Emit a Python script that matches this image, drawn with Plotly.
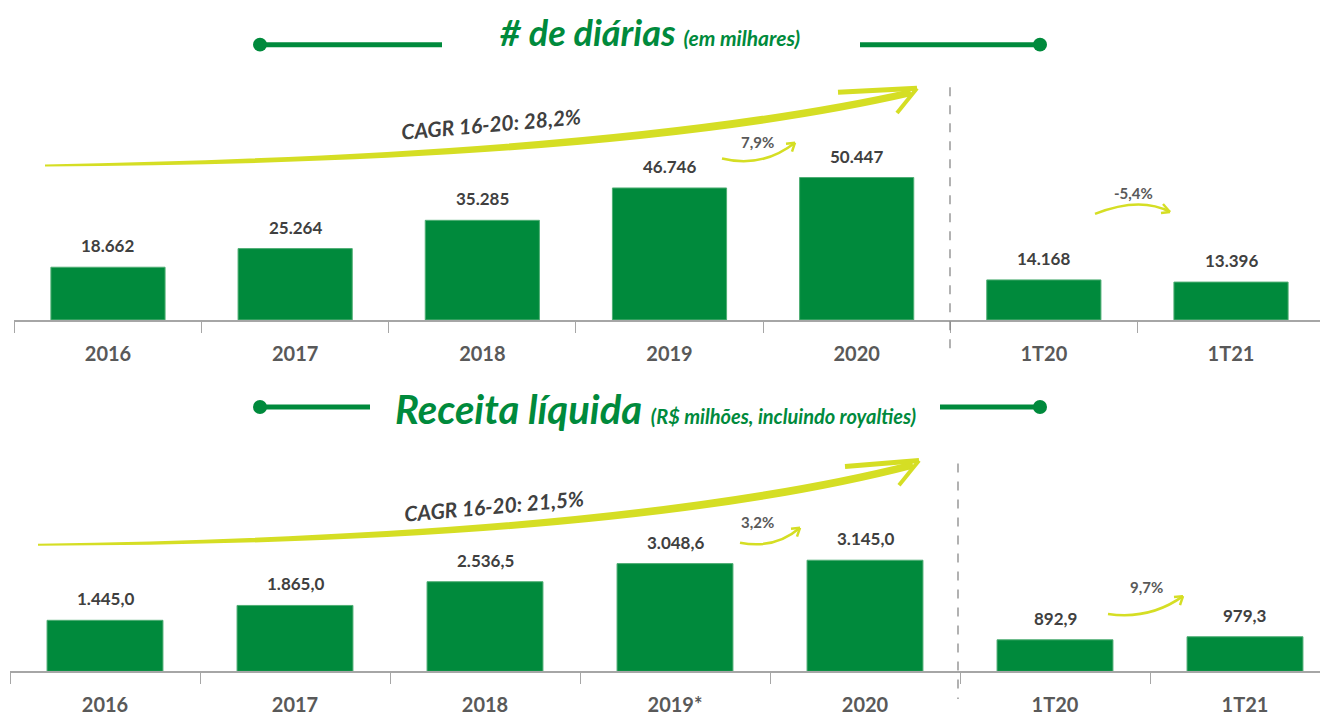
import plotly.graph_objects as go

# page has an 8px body margin: figure drawn at offset (8, 8)
OFF = 8
W, H = 1328 - OFF, 716 - OFF

cats_top = ["2016", "2017", "2018", "2019", "2020", "1T20", "1T21"]
cats_bot = ["2016", "2017", "2018", "2019*", "2020", "1T20", "1T21"]
diarias = [18662, 25264, 35285, 46746, 50447, 14168, 13396]       # milhares
receita = [1445.0, 1865.0, 2536.5, 3048.6, 3145.0, 892.9, 979.3]  # R$ milhões

title_top = "# de diárias"
sub_top = "(em milhares)"
title_bot = "Receita líquida"
sub_bot = "(R$ milhões, incluindo royalties)"
cagr_top = "CAGR 16-20: 28,2%"
cagr_bot = "CAGR 16-20: 21,5%"
growth_top = ["7,9%", "-5,4%"]
growth_bot = ["3,2%", "9,7%"]

GREEN = "#008A3C"
YEL = "#D5DE24"
DARK = "#404040"
GRAY = "#595959"
FONT = "Lato"


def fmt_int(v):
    return f"{v:,}".replace(",", ".")


def fmt_dec(v):
    return f"{v:,.1f}".replace(",", "X").replace(".", ",").replace("X", ".")


def px(x, y):
    return (x - OFF) / W, 1 - (y - OFF) / H


def dx(x):
    return (x - OFF) / W


def dy(y):
    return 1 - (y - OFF) / H


fig = go.Figure()
fig.add_trace(go.Bar(x=cats_top, y=diarias,
                     marker=dict(color=GREEN, line=dict(width=1, color="#4FAE74")),
                     width=0.61, xaxis="x", yaxis="y", hoverinfo="skip"))
fig.add_trace(go.Bar(x=cats_bot, y=receita,
                     marker=dict(color=GREEN, line=dict(width=1, color="#4FAE74")),
                     width=0.61, xaxis="x2", yaxis="y2", hoverinfo="skip"))

ann = []
for i, v in enumerate(diarias):
    ann.append(dict(x=i, y=v, xref="x", yref="y", text=f"<b>{fmt_int(v)}</b>", showarrow=False,
                    yanchor="bottom", yshift=9, font=dict(family=FONT, size=17, color=DARK)))
for i, v in enumerate(receita):
    ann.append(dict(x=i, y=v, xref="x2", yref="y2", text=f"<b>{fmt_dec(v)}</b>", showarrow=False,
                    yanchor="bottom", yshift=9, font=dict(family=FONT, size=17, color=DARK)))


def ptext(x, y, text, size, color, angle=0, italic=False, bold=True):
    t = f"<b>{text}</b>" if bold else text
    if italic:
        t = f"<i>{t}</i>"
    xx, yy = px(x, y)
    ann.append(dict(x=xx, y=yy, xref="paper", yref="paper", text=t, showarrow=False,
                    textangle=angle, xanchor="center", yanchor="middle",
                    font=dict(family=FONT, size=size, color=color)))


# titles
ptext(650, 32, f"{title_top} <span style='font-size:21px'>{sub_top}</span>", 36, GREEN, italic=True)
ptext(655, 413, f"{title_bot} <span style='font-size:20px'>{sub_bot}</span>", 40, GREEN, italic=True)

# CAGR texts and growth labels
ptext(491, 125, cagr_top, 21, DARK, angle=-5, italic=True)
ptext(494, 510, cagr_bot, 21, DARK, angle=-5, italic=True)
ptext(757, 143, growth_top[0], 15, GRAY)
ptext(1133, 195, growth_top[1], 15, GRAY)
ptext(757, 527, growth_bot[0], 15, GRAY)
ptext(1146, 593, growth_bot[1], 15, GRAY)

shapes = []


def line(x0, y0, x1, y1, color, width, dash=None):
    a, b = px(x0, y0)
    c, d = px(x1, y1)
    ln = dict(color=color, width=width)
    if dash:
        ln["dash"] = dash
    shapes.append(dict(type="line", xref="paper", yref="paper", x0=a, y0=b, x1=c, y1=d, line=ln))


def circle(cx, cy, r, color):
    a, b = px(cx - r, cy - r)
    c, d = px(cx + r, cy + r)
    shapes.append(dict(type="circle", xref="paper", yref="paper", x0=a, y0=d, x1=c, y1=b,
                       fillcolor=color, line=dict(width=0)))


def path(pts_cmd, color, width=0, fill=None):
    s = ""
    for cmd, pts in pts_cmd:
        s += cmd + " " + " ".join(f"{px(x, y)[0]:.5f},{px(x, y)[1]:.5f}" for x, y in pts) + " "
    if fill:
        s += "Z"
    d = dict(type="path", xref="paper", yref="paper", path=s,
             line=dict(color=color, width=width))
    if fill:
        d["fillcolor"] = fill
        d["line"] = dict(width=0)
    shapes.append(d)


# title decorations
for (xa, xb, xc, xd, yy) in [(260, 442, 860, 1040, 45), (260, 370, 940, 1040, 411)]:
    line(xa, yy, xb, yy, GREEN, 5)
    line(xc, yy, xd, yy, GREEN, 5)
    circle(xa, yy, 7, GREEN)
    circle(xd, yy, 7, GREEN)

# big arrows (brush-like filled crescents)
path([("M", [(45, 166)]), ("Q", [(620, 155), (910, 90)]), ("L", [(912, 97)]),
      ("Q", [(620, 165), (45, 168)])], YEL, fill=YEL)
line(838, 93, 917, 89, YEL, 5)
line(917, 89, 897, 114, YEL, 4)

path([("M", [(38, 549)]), ("Q", [(620, 540), (912, 466)]), ("L", [(914, 473)]),
      ("Q", [(620, 550), (38, 551)])], YEL, fill=YEL)
line(845, 471, 919, 465, YEL, 5)
line(919, 465, 899, 490, YEL, 4)


# small arrows
def small_arrow(x0, y0, cx, cy, x1, y1, h1, h2):
    path([("M", [(x0, y0)]), ("Q", [(cx, cy), (x1, y1)])], YEL, width=2.5)
    line(x1, y1, h1[0], h1[1], YEL, 2.5)
    line(x1, y1, h2[0], h2[1], YEL, 2.5)


small_arrow(722, 160, 762, 170, 795, 144, (786, 145), (792, 153))
small_arrow(1095, 216, 1140, 198, 1170, 214, (1163, 206), (1161, 215))
small_arrow(740, 548, 775, 555, 800, 533, (791, 534), (797, 542))
small_arrow(1108, 620, 1150, 626, 1183, 602, (1174, 603), (1180, 611))

# dashed separators
line(950, 88, 950, 352, "#7F7F7F", 1.2, dash="dash")
line(958, 468, 958, 706, "#7F7F7F", 1.2, dash="dash")

axis_common = dict(type="category", showline=True, linecolor="#A6A6A6", linewidth=1.5,
                   ticks="outside", tickson="boundaries", ticklen=11, tickcolor="#A6A6A6",
                   tickwidth=1, showgrid=False, zeroline=False, fixedrange=True,
                   tickfont=dict(family=FONT, size=20, color=GRAY), ticklabelstandoff=15)

fig.update_layout(
    width=W, height=H, margin=dict(l=0, r=0, t=0, b=0),
    paper_bgcolor="white", plot_bgcolor="white", showlegend=False, bargap=0.39,
    xaxis=dict(domain=[dx(14.4), dx(1324.6)], range=[-0.5, 6.5], anchor="y",
               tickvals=cats_top, ticktext=[f"<b>{c}</b>" for c in cats_top], **axis_common),
    yaxis=dict(domain=[dy(323), dy(80)], range=[0, 243 / 2.85 * 1000], visible=False,
               anchor="x", fixedrange=True),
    xaxis2=dict(domain=[max(dx(10), 0), 1.0], range=[-0.5, (1328 - 10) / 190 - 0.5], anchor="y2",
                tickvals=cats_bot, ticktext=[f"<b>{c}</b>" for c in cats_bot], **axis_common),
    yaxis2=dict(domain=[dy(678), dy(460)], range=[0, 218 / 0.0357], visible=False,
                anchor="x2", fixedrange=True),
    annotations=ann, shapes=shapes,
)

fig.write_html("out.html")
